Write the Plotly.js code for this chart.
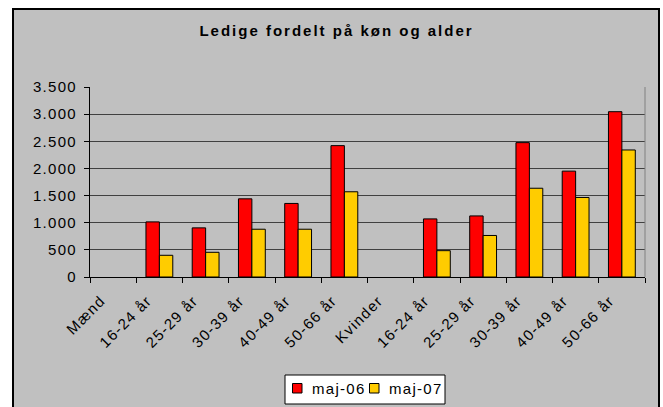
<!DOCTYPE html>
<html>
<head>
<meta charset="utf-8">
<script src="https://cdn.plot.ly/plotly-3.0.1.min.js"></script>
<style>
  html, body { margin: 0; padding: 0; background: #ffffff; overflow: hidden; }
  #frame { position: absolute; left: 12px; top: 8px; width: 644px; height: 420px;
           border: 2px solid #000; background: #C0C0C0; }
  #chart { position: absolute; left: 0; top: 0; width: 663px; height: 407px; }
  text { letter-spacing: 1.3px; }
  .gtitle { letter-spacing: 2px !important; }
</style>
</head>
<body>
<div id="frame"></div>
<div id="chart"></div>
<script>
const categories = ['Mænd', '16-24 år', '25-29 år', '30-39 år', '40-49 år', '50-66 år',
                    'Kvinder', '16-24 år', '25-29 år', '30-39 år', '40-49 år', '50-66 år'];
const maj06 = [null, 1015, 905, 1440, 1355, 2420, null, 1070, 1125, 2475, 1950, 3045];
const maj07 = [null, 400, 455, 880, 880, 1570, null, 485, 765, 1635, 1465, 2340];
const seriesNames = ['maj-06', 'maj-07'];
const seriesColors = ['#FF0000', '#FFCC00'];
const titleText = 'Ledige fordelt på køn og alder';

const W = 663, H = 407;
const M = { l: 90, r: 18, t: 87, b: 130 };
const plotW = W - M.l - M.r, plotH = H - M.t - M.b;
const px = x => (x - M.l) / plotW;
const py = y => (H - M.b - y) / plotH;

const idx = categories.map((_, i) => i);
const bounds = categories.map((_, i) => i - 0.5).concat([categories.length - 0.5]);

const traces = [maj06, maj07].map((vals, k) => ({
  type: 'bar', x: idx, y: vals, name: seriesNames[k],
  marker: { color: seriesColors[k], line: { color: '#000', width: 1 } },
  showlegend: false, hoverinfo: 'skip'
}));

const font = { family: 'Liberation Sans, Arial, sans-serif', size: 15, color: '#000' };

// custom legend (page-pixel geometry)
const legendItems = [{ sx: 292.5, tx: 310 }, { sx: 369.5, tx: 387 }];
const shapes = [
  { type: 'line', xref: 'paper', yref: 'paper', x0: 1, x1: 1, y0: 0, y1: 1,
    line: { color: '#808080', width: 1 } },
  { type: 'rect', xref: 'paper', yref: 'paper', x0: px(285), x1: px(445), y0: py(375), y1: py(404),
    fillcolor: '#ffffff', line: { color: '#000', width: 1 } }
];
const annotations = [];
legendItems.forEach((it, k) => {
  shapes.push({ type: 'rect', xref: 'paper', yref: 'paper', x0: px(it.sx), x1: px(it.sx + 9.5),
    y0: py(383.5), y1: py(393), fillcolor: seriesColors[k], line: { color: '#000', width: 1 } });
  annotations.push({ xref: 'paper', yref: 'paper', x: px(it.tx), y: py(388.5), xanchor: 'left',
    yanchor: 'middle', text: seriesNames[k], showarrow: false, font: font });
});

const layout = {
  width: W, height: H, margin: M,
  paper_bgcolor: 'rgba(0,0,0,0)', plot_bgcolor: 'rgba(0,0,0,0)',
  separators: ',.',
  font: font,
  barmode: 'group', bargap: 0.42, bargroupgap: 0,
  title: { text: titleText, x: 336.5 / W, xanchor: 'center', xref: 'container',
           y: 1 - 31 / H, yanchor: 'middle', yref: 'container',
           font: { family: 'Liberation Sans, Arial, sans-serif', size: 15, weight: 'bold', color: '#000' } },
  xaxis: {
    range: [-0.5, categories.length - 0.5], tickmode: 'array', tickvals: idx, ticktext: categories,
    ticks: '', tickangle: -45, showline: true, linecolor: '#000', linewidth: 1,
    showgrid: false, zeroline: false, tickfont: font,
    ticklabelstandoff: 8, ticklabelshift: -12,
    minor: { tickmode: 'array', tickvals: bounds, ticks: 'outside', ticklen: 5,
             tickcolor: '#000', tickwidth: 1, showgrid: false }
  },
  yaxis: {
    range: [0, 3500], tick0: 0, dtick: 500, tickformat: ',d',
    showgrid: true, gridcolor: '#404040', gridwidth: 1,
    showline: true, linecolor: '#000', linewidth: 1,
    ticks: 'outside', ticklen: 5, tickcolor: '#000', zeroline: false, tickfont: font,
    ticklabelstandoff: 4
  },
  shapes: shapes, annotations: annotations
};

Plotly.newPlot('chart', traces, layout, { displayModeBar: false, staticPlot: true });
</script>
</body>
</html>
